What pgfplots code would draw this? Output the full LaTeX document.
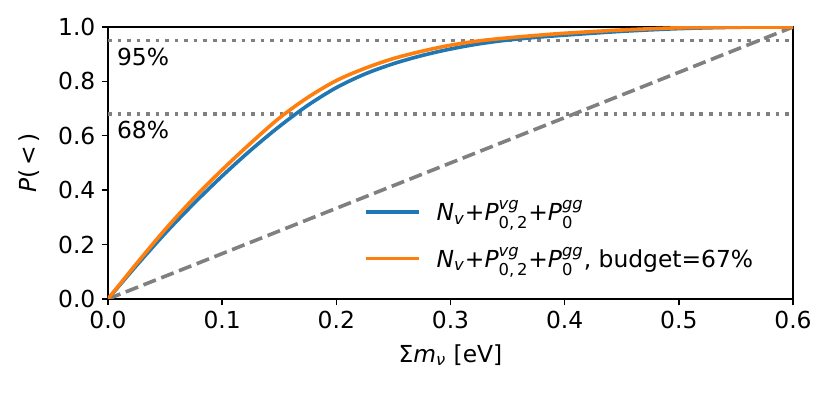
\documentclass[border=0pt]{standalone}
\usepackage{pgfplots}
\pgfplotsset{compat=1.18}
\usepackage{amsmath}
\usepackage{fontspec}
\setmainfont{DejaVu Sans}
\definecolor{tabblue}{HTML}{1F77B4}
\definecolor{taborange}{HTML}{FF7F0E}
\definecolor{mgray}{HTML}{808080}
\newcommand{\ti}[1]{\text{\textit{#1}}}
\newcommand{\fs}{\fontsize{13}{15.6}\selectfont}
\begin{document}
\begin{tikzpicture}
\begin{axis}[
  name=ax,
  scale only axis,
  width=380.6pt, height=151.1pt,
  xmin=0, xmax=0.6, ymin=0, ymax=1,
  xtick={0,0.1,0.2,0.3,0.4,0.5,0.6},
  ytick={0,0.2,0.4,0.6,0.8,1.0},
  /pgf/number format/assume math mode=true,
  xticklabel style={/pgf/number format/.cd, fixed, fixed zerofill, precision=1},
  yticklabel style={/pgf/number format/.cd, fixed, fixed zerofill, precision=1},
  tick align=outside,
  major tick length=3.5pt,
  every tick/.style={black, line width=0.8pt},
  axis line style={line width=0.8pt},
  xtick pos=bottom, ytick pos=left,
  tick label style={font=\fs},
  label style={font=\fs},
  xlabel={$\text{Σ}\ti{m}_{\ti{ν}}$ [eV]},
  ylabel={\textit{P}(\,<\,)},
  xlabel style={at={(rel axis cs:0.5,0)}, anchor=center, yshift=-31pt},
  ylabel style={at={(rel axis cs:0,0.5)}, anchor=center, yshift=44pt},
  legend cell align=left,
  legend style={at={(rel axis cs:0.365,0.39)}, anchor=north west, draw=none, fill=none,
    row sep=9pt, font=\fs,
    /tikz/every odd column/.append style={column sep=7pt}},
  legend image code/.code={\draw[#1] (0pt,0pt) -- (29.5pt,0pt);},
]
\addplot[mgray, line width=2pt, dash pattern=on 2pt off 3.3pt, forget plot] coordinates {(0,0.95) (0.6,0.95)};
\addplot[mgray, line width=2pt, dash pattern=on 2pt off 3.3pt, forget plot] coordinates {(0,0.68) (0.6,0.68)};
\addplot[mgray, line width=2pt, dash pattern=on 7.4pt off 3.2pt, forget plot] coordinates {(0,0) (0.6,1)};
\addplot[tabblue, line width=2pt, smooth] coordinates {
(0.000,0.000) (0.025,0.123) (0.050,0.241) (0.075,0.350) (0.100,0.452)
(0.125,0.547) (0.150,0.634) (0.175,0.712) (0.200,0.777) (0.225,0.827)
(0.250,0.865) (0.275,0.895) (0.300,0.919) (0.325,0.938) (0.350,0.952)
(0.375,0.962) (0.400,0.970) (0.450,0.984) (0.500,0.994) (0.550,0.999) (0.600,1.000)};
\addlegendentry{$\ti{N}_{\ti{v}}$+$\ti{P}^{\ti{vg}}_{\text{0,\,2}}$+$\ti{P}^{\ti{gg}}_{\text{0}}$}
\addplot[taborange, line width=2pt, smooth] coordinates {
(0.000,0.000) (0.025,0.130) (0.050,0.255) (0.075,0.370) (0.100,0.475)
(0.125,0.573) (0.150,0.665) (0.175,0.741) (0.200,0.803) (0.225,0.848)
(0.250,0.884) (0.275,0.911) (0.300,0.933) (0.325,0.949) (0.350,0.960)
(0.375,0.969) (0.400,0.977) (0.450,0.989) (0.500,0.997) (0.550,0.9995) (0.600,1.000)};
\addlegendentry{$\ti{N}_{\ti{v}}$+$\ti{P}^{\ti{vg}}_{\text{0,\,2}}$+$\ti{P}^{\ti{gg}}_{\text{0}}$, budget=67\%}
\node[anchor=west, inner sep=0pt, font=\fs] at (axis cs:0.0076,0.891) {95\%};
\node[anchor=west, inner sep=0pt, font=\fs] at (axis cs:0.0076,0.621) {68\%};
\end{axis}
\path ([shift={(-60pt,-52.2pt)}]ax.south west) rectangle ([shift={(21.1pt,15pt)}]ax.north east);
\end{tikzpicture}
\end{document}
